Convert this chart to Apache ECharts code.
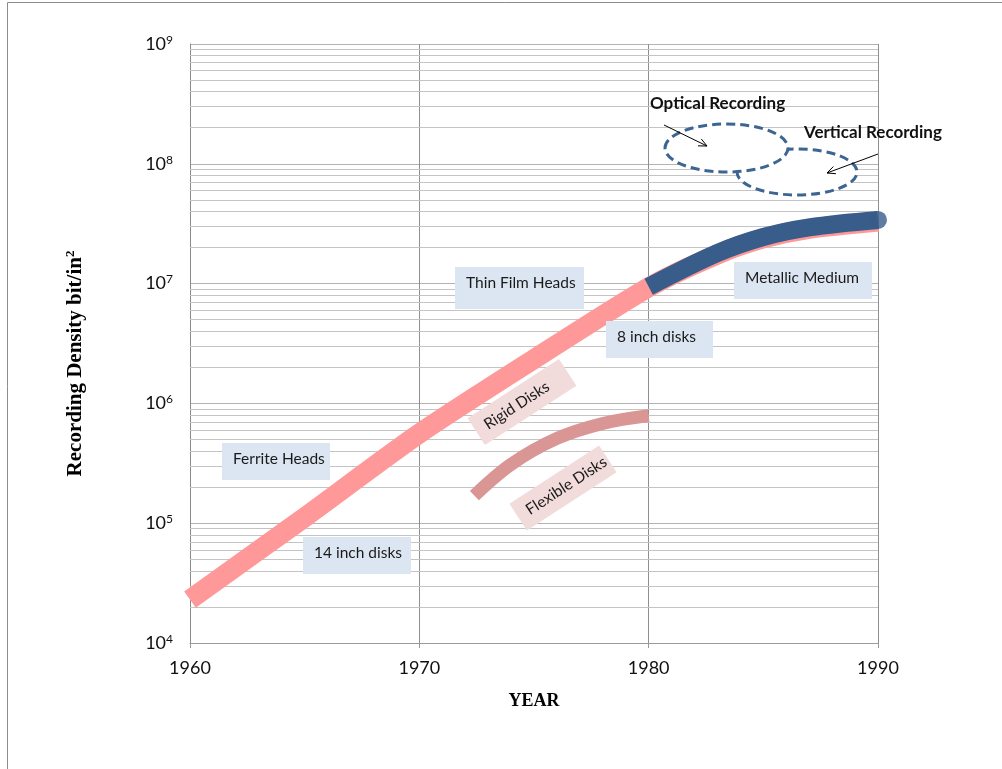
<!DOCTYPE html>
<html>
<head>
<meta charset="utf-8">
<title>Recording Density</title>
<script src="https://cdn.jsdelivr.net/npm/echarts@6/dist/echarts.min.js"></script>
<style>
  html, body { margin: 0; padding: 0; background: #ffffff; }
  #chart { width: 1002px; height: 769px; }
</style>
</head>
<body>
<div id="chart"></div>
<script>
// Year ticks on the x axis
const yearTicks = [1960, 1970, 1980, 1990];
// Decade exponents shown on the y axis (10^4 .. 10^9)
const densityExponents = [4, 5, 6, 7, 8, 9];

// Head technology curve (ferrite -> thin film heads), continuing under the metallic medium curve
const headYears = [1960, 1965, 1970, 1975, 1980, 1983, 1985, 1987, 1990];
const headDensity = [2.3e4, 1.12e5, 5.6e5, 2.34e6, 9.3e6, 1.75e7, 2.38e7, 2.87e7, 3.3e7];

// Metallic medium curve
const metalYears = [1980, 1983, 1985, 1987, 1990];
const metalDensity = [9.4e6, 1.8e7, 2.45e7, 2.95e7, 3.4e7];

// Flexible disks curve
const flexYears = [1972.4, 1974, 1976, 1978, 1980];
const flexDensity = [1.7e5, 3.1e5, 5.1e5, 6.8e5, 7.9e5];

const pairs = (xs, ys) => xs.map((x, i) => [x, ys[i]]);

const chart = echarts.init(document.getElementById('chart'), null, { renderer: 'canvas' });

// Minor log gridlines (2..9 within each decade)
const minorLines = [];
for (let e = densityExponents[0]; e < densityExponents[densityExponents.length - 1]; e++) {
  for (let k = 2; k <= 9; k++) minorLines.push({ yAxis: k * Math.pow(10, e) });
}

const FONT = 'Lato, "Open Sans", sans-serif';
const SERIF = '"Liberation Serif", "DejaVu Serif", serif';
const DARK_BLUE = '#385D8A';
const ANNOT_Z = 15;

function arrow(x1, y1, x2, y2) {
  const dx = x2 - x1, dy = y2 - y1;
  const len = Math.hypot(dx, dy);
  const ux = dx / len, uy = dy / len;
  const hl = 9, ang = 25 * Math.PI / 180;
  const rot = (a) => [
    x2 - hl * (ux * Math.cos(a) - uy * Math.sin(a)),
    y2 - hl * (uy * Math.cos(a) + ux * Math.sin(a))
  ];
  return {
    type: 'group', silent: true,
    children: [
      { type: 'line', z: 20, shape: { x1, y1, x2, y2 }, style: { stroke: '#000', lineWidth: 1 } },
      { type: 'polyline', z: 20, shape: { points: [rot(ang), [x2, y2], rot(-ang)] }, style: { stroke: '#000', lineWidth: 1, fill: null } }
    ]
  };
}

function box(cx, cy, w, h, label, fill, rotationDeg) {
  return {
    type: 'group', x: cx, y: cy, silent: true,
    rotation: (rotationDeg || 0) * Math.PI / 180,
    children: [
      { type: 'rect', z: ANNOT_Z, shape: { x: -w / 2, y: -h / 2, width: w, height: h }, style: { fill: fill } },
      { type: 'text', z: ANNOT_Z, z2: 5, x: -w / 2 + 11, y: -h / 2 + 16,
        style: { text: label, fill: '#1a1a1a', font: '15.5px ' + FONT, textAlign: 'left', textVerticalAlign: 'middle' } }
    ]
  };
}
const rectBox = (left, top, w, h, label) => box(left + w / 2, top + h / 2, w, h, label, '#DCE6F2', 0);

const option = {
  animation: false,
  backgroundColor: '#ffffff',
  grid: { left: 190, right: 124, top: 44, bottom: 126, containLabel: false },
  xAxis: {
    type: 'value', min: yearTicks[0], max: yearTicks[yearTicks.length - 1], interval: 10,
    axisLine: { show: true, onZero: false, lineStyle: { color: '#9a9a9a', width: 1 } },
    axisTick: { show: true, length: 5, lineStyle: { color: '#9a9a9a' } },
    splitLine: { show: true, lineStyle: { color: '#8f8f8f', width: 1 } },
    axisLabel: { color: '#111', fontSize: 18, fontFamily: FONT, margin: 16, formatter: (v) => String(v) },
    name: 'YEAR', nameLocation: 'middle', nameGap: 49,
    nameTextStyle: { fontFamily: SERIF, fontWeight: 'bold', fontSize: 18, color: '#000' }
  },
  yAxis: {
    type: 'log', logBase: 10, min: Math.pow(10, densityExponents[0]), max: Math.pow(10, densityExponents[densityExponents.length - 1]),
    axisLine: { show: true, onZero: false, lineStyle: { color: '#8a8a8a', width: 1 } },
    axisTick: { show: false },
    splitLine: { show: true, lineStyle: { color: '#b3b3b3', width: 1 } },
    axisLabel: {
      margin: 17,
      formatter: (v) => '{b|10}{s|' + Math.round(Math.log10(v)) + '}',
      rich: {
        b: { fontSize: 18, fontFamily: FONT, color: '#111', lineHeight: 20 },
        s: { fontSize: 12, fontFamily: FONT, color: '#111', verticalAlign: 'top', lineHeight: 12 }
      }
    },
    name: '{n|Recording Density bit/in}{s|2}', nameLocation: 'middle', nameGap: 102,
    nameTextStyle: {
      padding: [0, 40, 0, 0],
      rich: {
        n: { fontFamily: SERIF, fontWeight: 'bold', fontSize: 21, color: '#000', lineHeight: 24 },
        s: { fontFamily: SERIF, fontWeight: 'bold', fontSize: 13, color: '#000', verticalAlign: 'top', lineHeight: 13 }
      }
    }
  },
  series: [
    {
      name: 'grid-minor', type: 'line', data: [[yearTicks[0], Math.pow(10, densityExponents[0])]],
      symbol: 'none', lineStyle: { width: 0 }, silent: true, z: 0,
      markLine: {
        silent: true, z: 1, symbol: ['none', 'none'], label: { show: false },
        lineStyle: { color: '#c4c4c4', type: 'solid', width: 1 },
        emphasis: { disabled: true },
        data: minorLines
      }
    },
    {
      name: 'Heads', type: 'line', data: pairs(headYears, headDensity),
      smooth: 0.25, symbol: 'none', z: 3,
      lineStyle: { color: '#FF9999', width: 20, cap: 'butt' }
    },
    {
      name: 'Metallic Medium', type: 'line', data: pairs(metalYears, metalDensity),
      smooth: 0.35, symbol: 'none', z: 4,
      lineStyle: { color: DARK_BLUE, width: 18, cap: 'butt' }
    },
    {
      name: 'Metallic Medium end', type: 'scatter', z: 4,
      data: [[metalYears[metalYears.length - 1], metalDensity[metalDensity.length - 1]]],
      symbol: 'circle', symbolSize: 18, itemStyle: { color: DARK_BLUE }
    },
    {
      name: 'Flexible Disks', type: 'line', data: pairs(flexYears, flexDensity),
      smooth: 0.35, symbol: 'none', z: 3,
      lineStyle: { color: '#D99694', width: 13, cap: 'butt' }
    }
  ],
  graphic: [
    { type: 'rect', z: 0, silent: true, shape: { x: 7.5, y: 2.5, width: 1100, height: 1000 },
      style: { fill: null, stroke: '#8c8c8c', lineWidth: 1 } },
    { type: 'ellipse', z: 10, silent: true, shape: { cx: 797, cy: 172, rx: 60, ry: 23 },
      style: { fill: '#ffffff', stroke: '#3D6592', lineWidth: 3, lineDash: [9, 5] } },
    { type: 'ellipse', z: 11, silent: true, shape: { cx: 726.5, cy: 148, rx: 61.5, ry: 24 },
      style: { fill: '#ffffff', stroke: '#3D6592', lineWidth: 3, lineDash: [9, 5] } },
    arrow(664, 125, 707, 146),
    arrow(878, 154, 827, 173),
    { type: 'text', z: 20, silent: true, x: 650, y: 104,
      style: { text: 'Optical Recording', font: 'bold 17px ' + FONT, fill: '#111', textAlign: 'left', textVerticalAlign: 'middle' } },
    { type: 'text', z: 20, silent: true, x: 804, y: 133,
      style: { text: 'Vertical Recording', font: 'bold 17px ' + FONT, fill: '#111', textAlign: 'left', textVerticalAlign: 'middle' } },
    rectBox(222, 443, 108, 37, 'Ferrite Heads'),
    rectBox(303, 537, 108, 37, '14 inch disks'),
    rectBox(455, 267, 129, 42, 'Thin Film Heads'),
    rectBox(606, 321, 107, 37, '8 inch disks'),
    rectBox(734, 262, 138, 37, 'Metallic Medium'),
    box(522, 402, 109, 32, 'Rigid Disks', '#F2DCDB', 33),
    box(563, 488, 107, 32, 'Flexible Disks', '#F2DCDB', 33)
  ]
};

chart.setOption(option);
</script>
</body>
</html>
